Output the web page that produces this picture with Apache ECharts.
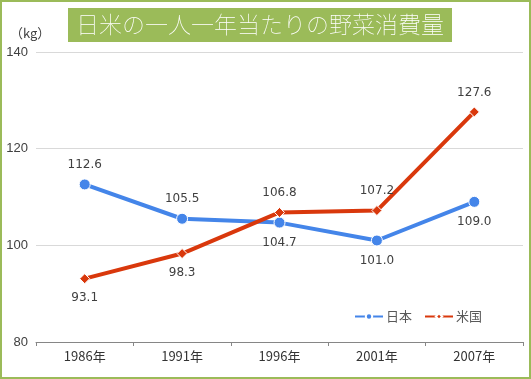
<!DOCTYPE html>
<html><head><meta charset="utf-8">
<script src="https://cdn.jsdelivr.net/npm/echarts@6/dist/echarts.min.js"></script>
<style>
html,body{margin:0;padding:0;background:#fff;}
#c{position:absolute;left:0;top:0;width:527px;height:375px;border:2px solid #9BBB59;}
</style></head>
<body><div id="c"></div>
<script>
const categories = ['1986年','1991年','1996年','2001年','2007年'];
const japan = [112.6, 105.5, 104.7, 101.0, 109.0];
const usa = [93.1, 98.3, 106.8, 107.2, 127.6];
const japanLabelPos = ['top','top','bottom','bottom','bottom'];
const usaLabelPos = ['bottom','bottom','top','top','top'];
const yTicks = {min: 80, max: 140, interval: 20};

const chart = echarts.init(document.getElementById('c'));
const lblFont = {fontFamily: 'DejaVu Sans', fontSize: 12, color: '#404040'};
function mk(vals, pos) {
  return vals.map((v, i) => ({value: v, label: {position: pos[i]}}));
}
chart.setOption({
  animation: false,
  title: {
    text: '日米の一人一年当たりの野菜消費量',
    left: 66, top: 6,
    backgroundColor: '#9BBB59',
    padding: [5, 8, 6, 8],
    textStyle: {color: '#fff', fontSize: 23, fontWeight: 'lighter', fontFamily: 'Noto Sans CJK JP'}
  },
  graphic: [{
    type: 'text', left: 8, top: 25,
    style: {text: '（kg）', fontFamily: 'Noto Sans CJK JP', fontSize: 13, fill: '#404040'}
  }],
  grid: {left: 34, right: 6, top: 50, bottom: 35, outerBoundsMode: 'none', containLabel: false},
  legend: {
    right: 42, top: 303, itemWidth: 28, itemHeight: 8, itemGap: 12,
    textStyle: {fontFamily: 'Noto Sans CJK JP', fontSize: 13, color: '#595959', padding: [0, 0, 0, -2]},
    data: ['日本', '米国']
  },
  xAxis: {
    type: 'category', data: categories, boundaryGap: true,
    axisLine: {lineStyle: {color: '#868686', width: 1}},
    axisTick: {show: true, length: 4, lineStyle: {color: '#868686'}},
    axisLabel: {fontFamily: 'Noto Sans CJK JP', fontSize: 13, color: '#333333', margin: 8}
  },
  yAxis: {
    type: 'value', min: yTicks.min, max: yTicks.max, interval: yTicks.interval,
    axisLine: {show: false}, axisTick: {show: false},
    splitLine: {lineStyle: {color: '#d9d9d9'}},
    axisLabel: {fontFamily: 'Liberation Sans', fontSize: 13, color: '#404040', margin: 8}
  },
  series: [
    {
      name: '日本', type: 'line', data: mk(japan, japanLabelPos),
      symbol: 'circle', symbolSize: 11,
      lineStyle: {color: '#4485E9', width: 4},
      itemStyle: {color: '#4485E9', borderColor: '#fff', borderWidth: 1},
      label: {show: true, formatter: p => p.value.toFixed(1), distance: 8, ...lblFont}
    },
    {
      name: '米国', type: 'line', data: mk(usa, usaLabelPos),
      symbol: 'diamond', symbolSize: 10,
      lineStyle: {color: '#D9380C', width: 4},
      itemStyle: {color: '#D9380C', borderColor: '#fff', borderWidth: 1},
      label: {show: true, formatter: p => p.value.toFixed(1), distance: 8, ...lblFont}
    }
  ]
});
</script></body></html>
